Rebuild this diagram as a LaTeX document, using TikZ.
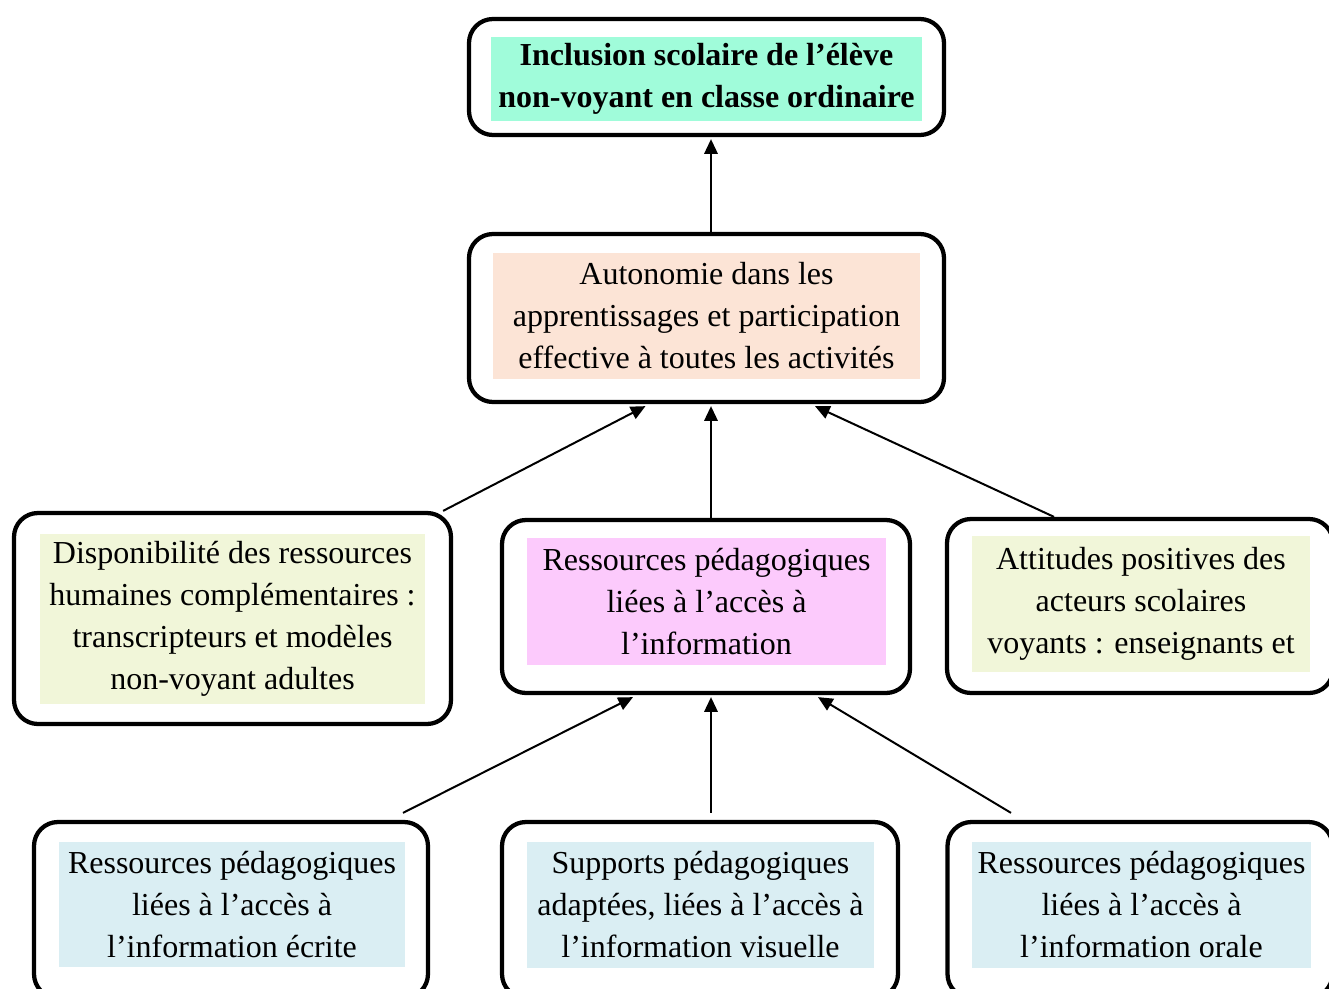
\documentclass[tikz,border=0pt]{standalone}
\usepackage{fontspec}
\setmainfont{Liberation Serif}
\usetikzlibrary{arrows.meta}

\definecolor{inclcolor}{RGB}{160,252,218}
\definecolor{autocolor}{RGB}{252,228,214}
\definecolor{humcolor}{RGB}{241,246,217}
\definecolor{infocolor}{RGB}{252,202,252}
\definecolor{supcolor}{RGB}{218,238,243}

\begin{document}
\begin{tikzpicture}[x=0.75pt, y=-0.75pt,
    frame/.style={draw, line width=3.2pt, rounded corners=18pt, inner sep=0pt},
    txt/.style={inner sep=0pt, align=center, font=\fontsize{24}{31.5}\selectfont},
    link/.style={-{Triangle[length=11pt, width=10pt]}, line width=1.5pt}]

    \def\px{0.75pt}
    \useasboundingbox (0,0) rectangle (1329,989);

    % top level
    \node[frame, minimum width=475*\px, minimum height=116*\px] (incl) at (706.5,77) {};
    \node[txt, fill=inclcolor, minimum width=431*\px, minimum height=84*\px] (incl-txt) at (706.5,78.5)
        {\bfseries Inclusion scolaire de l’élève\\\bfseries non-voyant en classe ordinaire};

    \node[frame, minimum width=475*\px, minimum height=168*\px] (auto) at (706.5,318) {};
    \node[txt, fill=autocolor, minimum width=427*\px, minimum height=126*\px] (auto-txt) at (706.5,316)
        {Autonomie dans les\\apprentissages et participation\\effective à toutes les activités};

    % middle row
    \node[frame, minimum width=437*\px, minimum height=211*\px] (hum) at (232.5,618.5) {};
    \node[txt, fill=humcolor, minimum width=385*\px, minimum height=170*\px] (hum-txt) at (232.5,618.5)
        {Disponibilité des ressources\\humaines complémentaires :\\transcripteurs et modèles\\non-voyant adultes};

    \node[frame, minimum width=408*\px, minimum height=173*\px] (info) at (706,606.5) {};
    \node[txt, fill=infocolor, minimum width=359*\px, minimum height=127*\px] (info-txt) at (706.5,601.5)
        {Ressources pédagogiques\\liées à l’accès à\\l’information};

    \node[frame, minimum width=386*\px, minimum height=174*\px] (att) at (1140,606) {};
    \node[txt, fill=humcolor, minimum width=338*\px, minimum height=136*\px] (att-txt) at (1141,604)
        {Attitudes positives des\\acteurs scolaires\\voyants : enseignants et};

    % bottom row
    \node[frame, minimum width=394*\px, minimum height=176*\px] (ecr) at (231,910) {};
    \node[txt, fill=supcolor, minimum width=346*\px, minimum height=125*\px] (ecr-txt) at (232,904.5)
        {Ressources pédagogiques\\liées à l’accès à\\l’information écrite};

    \node[frame, minimum width=396*\px, minimum height=176*\px] (vis) at (700,910) {};
    \node[txt, fill=supcolor, minimum width=347*\px, minimum height=126*\px] (vis-txt) at (700.5,904.5)
        {Supports pédagogiques\\adaptées, liées à l’accès à\\l’information visuelle};

    \node[frame, minimum width=385*\px, minimum height=176*\px] (oral) at (1140,910) {};
    \node[txt, fill=supcolor, minimum width=339*\px, minimum height=126*\px] (oral-txt) at (1141.5,904.5)
        {Ressources pédagogiques\\liées à l’accès à\\l’information orale};

    % connectors
    \draw[link] ([xshift=4.5*\px]auto.north) -- ([xshift=4.5*\px, yshift=-2*\px]incl.south);
    \draw[link] ([xshift=-10*\px]hum.north east) -- ([xshift=-61*\px, yshift=-2*\px]auto.south);
    \draw[link] ([xshift=5*\px]info.north) -- ([xshift=4.5*\px, yshift=-2*\px]auto.south);
    \draw[link] ([xshift=-86*\px]att.north) -- ([xshift=108.5*\px, yshift=-2*\px]auto.south);
    \draw[link] ([xshift=172*\px, yshift=7*\px]ecr.north) -- ([xshift=-73*\px, yshift=-2*\px]info.south);
    \draw[link] ([xshift=11*\px, yshift=7*\px]vis.north) -- ([xshift=5*\px, yshift=-2*\px]info.south);
    \draw[link] ([xshift=-129*\px, yshift=7*\px]oral.north) -- ([xshift=112*\px, yshift=-2*\px]info.south);
\end{tikzpicture}
\end{document}
